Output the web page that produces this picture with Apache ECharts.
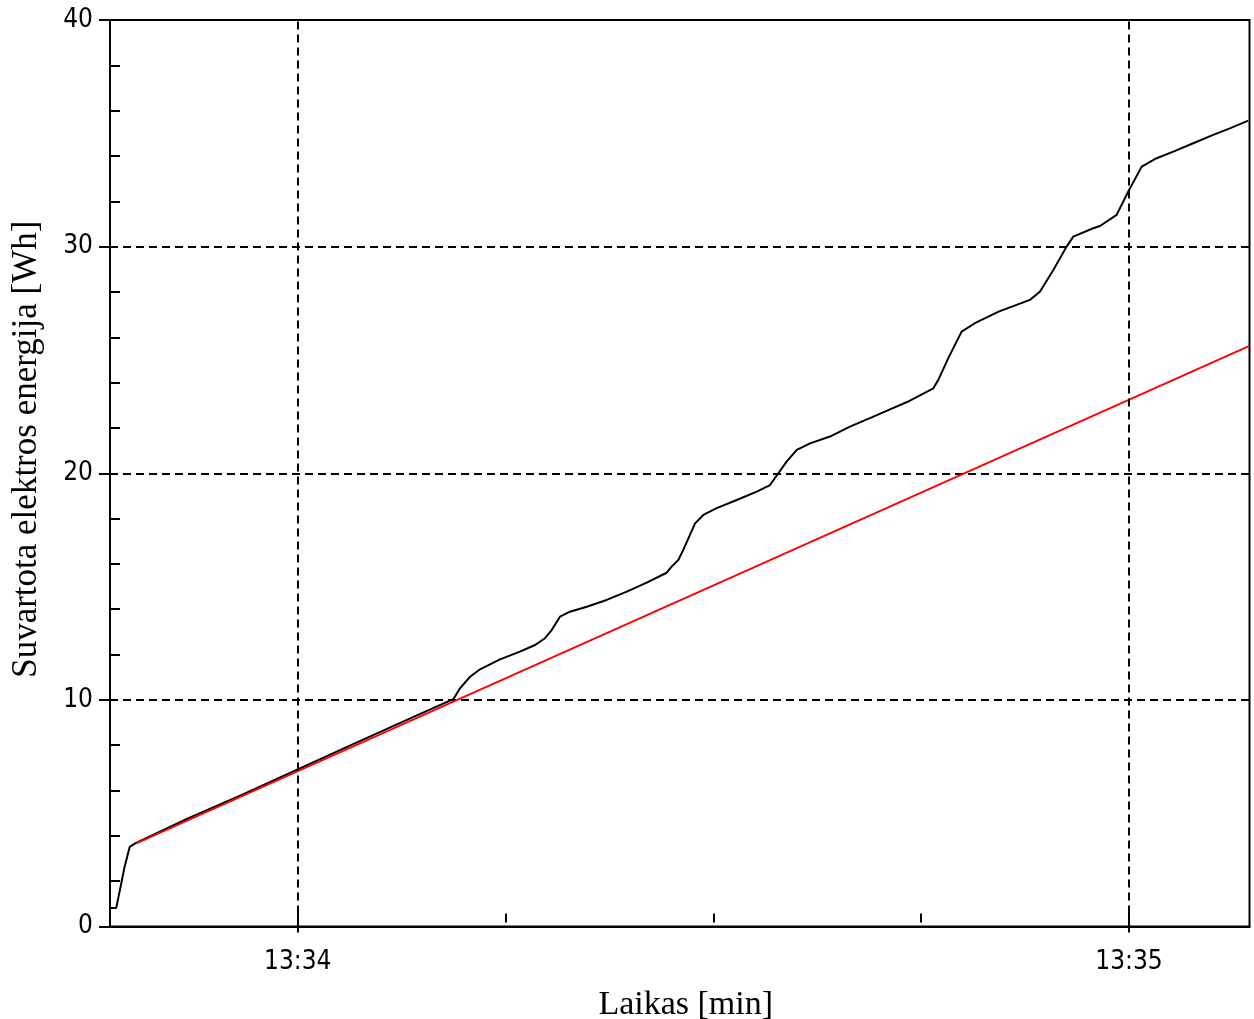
<!DOCTYPE html>
<html>
<head>
<meta charset="utf-8">
<title>Suvartota elektros energija</title>
<script src="https://cdn.jsdelivr.net/npm/echarts@6/dist/echarts.min.js"></script>
<style>
  html, body { margin: 0; padding: 0; background: #fff; }
  #chart { width: 1254px; height: 1019px; }
</style>
</head>
<body>
<div id="chart"></div>
<script>
// Time in seconds after 13:33:00, energy in Wh
const timeSec = [46.43, 46.9, 47.27, 47.5, 47.87, 48.3, 52, 56, 60, 64, 68, 71.23,
  71.71, 72.44, 73.16, 74.6, 76.04, 77.13, 77.85, 78.33, 78.93, 79.65, 80.86, 82.3,
  83.75, 85.19, 86.63, 86.99, 87.47, 87.83, 88.68, 89.28, 90.24, 91.69, 93.13, 94.09,
  94.69, 95.29, 96.02, 96.98, 98.42, 99.86, 101.3, 102.75, 104.19, 105.88, 106.24,
  106.96, 107.92, 108.88, 110.59, 112.85, 113.57, 114.54, 115.5, 115.98, 117.42,
  117.91, 119.11, 119.95, 120.92, 122.0, 123.2, 124.64, 126.08, 127.28, 128.61];
const energyWh = [0.82, 0.82, 1.92, 2.63, 3.51, 3.68, 4.75, 5.82, 6.93, 8.05, 9.15, 10.03,
  10.51, 11.02, 11.35, 11.79, 12.13, 12.42, 12.72, 13.08, 13.67, 13.89, 14.11, 14.41,
  14.78, 15.17, 15.61, 15.88, 16.17, 16.62, 17.79, 18.16, 18.46, 18.82, 19.19, 19.48,
  20.0, 20.51, 21.03, 21.32, 21.62, 22.06, 22.43, 22.82, 23.2, 23.75, 24.12,
  25.08, 26.25, 26.62, 27.13, 27.65, 28.01, 28.97, 30.0, 30.44, 30.81,
  30.91, 31.4, 32.43, 33.53, 33.9, 34.19, 34.56, 34.93, 35.22, 35.56];

// Linear trend
const trendTime = [48.38, 128.7];
const trendWh = [3.68, 25.62];

// Axis settings
const timeMin = 46.45, timeMax = 128.7;
const timeLabelValues = [60, 120];           // 13:34, 13:35
const timeMinorValues = [75, 90, 105];
const energyMax = 40;
const energyMinorTicks = [2, 4, 6, 8, 12, 14, 16, 18, 22, 24, 26, 28, 32, 34, 36, 38];

const blackSeries = timeSec.map((t, i) => [t, energyWh[i]]);
const redSeries = trendTime.map((t, i) => [t, trendWh[i]]);

function clockLabel(v) {
  const total = 13 * 60 + 33 + Math.round(v) / 60;
  const h = Math.floor(total / 60);
  const m = Math.round(total - h * 60);
  return h + ':' + (m < 10 ? '0' + m : m);
}

const tickFont = '"Liberation Sans Narrow", "DejaVu Sans Condensed", "Liberation Sans", sans-serif';
const nameFont = '"Liberation Serif", "DejaVu Serif", serif';
const black2 = { color: '#000', width: 2 };

// Extra x axes only carry tick marks
function tickAxis(values, length, offset) {
  return {
    type: 'value', min: timeMin, max: timeMax, position: 'bottom', offset: offset,
    axisLine: { show: false },
    axisTick: { show: true, inside: true, length: length, customValues: values, lineStyle: black2 },
    axisLabel: { show: false },
    splitLine: { show: false }
  };
}

const chart = echarts.init(document.getElementById('chart'), null, { renderer: 'canvas' });
chart.setOption({
  animation: false,
  backgroundColor: '#fff',
  grid: {
    left: 110, top: 20, width: 1139.5, height: 906.5,
    outerBoundsMode: 'none', containLabel: false,
    show: true, borderColor: '#000', borderWidth: 2, backgroundColor: 'transparent'
  },
  xAxis: [
    {
      type: 'value', min: timeMin, max: timeMax,
      name: 'Laikas [min]', nameLocation: 'middle', nameGap: 62,
      nameTextStyle: { fontFamily: nameFont, fontSize: 34, color: '#000', padding: [0, 0, 0, 12] },
      axisLine: { show: true, onZero: false, lineStyle: black2 },
      axisTick: { show: true, inside: false, length: 6, customValues: timeLabelValues, lineStyle: black2 },
      axisLabel: { show: true, customValues: timeLabelValues, formatter: clockLabel,
        margin: 23, fontFamily: tickFont, fontSize: 26, color: '#000' },
      splitLine: { show: false }
    },
    tickAxis(timeLabelValues, 20, 0),
    tickAxis(timeMinorValues, 9, -4)
  ],
  yAxis: [
    {
      type: 'value', min: 0, max: energyMax, interval: 10,
      name: 'Suvartota elektros energija [Wh]', nameLocation: 'middle', nameGap: 66,
      nameTextStyle: { fontFamily: nameFont, fontSize: 35, color: '#000', padding: [0, 0, 0, 48] },
      axisLine: { show: true, onZero: false, lineStyle: black2 },
      axisTick: { show: true, inside: false, length: 11, lineStyle: black2 },
      axisLabel: { show: true, margin: 17, fontFamily: tickFont, fontSize: 26, color: '#000' },
      splitLine: { show: true, lineStyle: { color: '#000', width: 2, type: [8, 5] } }
    },
    {
      type: 'value', min: 0, max: energyMax, position: 'left',
      axisLine: { show: false },
      axisTick: { show: true, inside: true, length: 10, customValues: energyMinorTicks, lineStyle: black2 },
      axisLabel: { show: false },
      splitLine: { show: false }
    }
  ],
  series: [
    {
      name: 'Suvartota', type: 'line', data: blackSeries, xAxisIndex: 0, yAxisIndex: 0,
      showSymbol: false, symbol: 'none', smooth: false, z: 3,
      lineStyle: { color: '#000', width: 2 },
      markLine: {
        silent: true, symbol: ['none', 'none'], label: { show: false },
        lineStyle: { color: '#000', width: 2, type: [8, 5] },
        data: timeLabelValues.map(v => ({ xAxis: v }))
      }
    },
    {
      name: 'Tendencija', type: 'line', data: redSeries, xAxisIndex: 0, yAxisIndex: 0,
      showSymbol: false, symbol: 'none', z: 4,
      lineStyle: { color: '#ff0000', width: 1.8 }
    }
  ]
});
</script>
</body>
</html>
